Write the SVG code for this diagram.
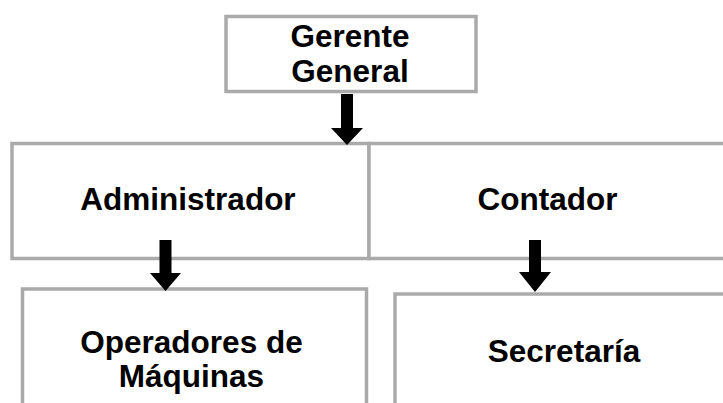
<svg xmlns="http://www.w3.org/2000/svg" width="723" height="403" viewBox="0 0 723 403">
  <style>
    .box { fill: #ffffff; stroke: #aaaaaa; stroke-width: 3.5; }
    .lbl { font-family: "Liberation Sans", Arial, sans-serif; font-weight: bold; font-size: 31.5px; fill: #000000; text-anchor: middle; }
    .arr { fill: #000000; stroke: none; }
  </style>
  <rect width="723" height="403" fill="#ffffff"/>
  <g id="node-gerente">
    <rect class="box" x="226" y="16.5" width="250" height="75"/>
    <text class="lbl" x="350" y="47">Gerente</text>
    <text class="lbl" x="350" y="82">General</text>
  </g>
  <g id="node-administrador">
    <rect class="box" x="12" y="143.5" width="357" height="115"/>
    <text class="lbl" x="188" y="210">Administrador</text>
  </g>
  <g id="node-contador">
    <rect class="box" x="369" y="143.5" width="370" height="115"/>
    <text class="lbl" x="547.5" y="210">Contador</text>
  </g>
  <g id="node-operadores">
    <rect class="box" x="22.5" y="289" width="344" height="140"/>
    <text class="lbl" x="191.5" y="353">Operadores de</text>
    <text class="lbl" x="191.5" y="387">Máquinas</text>
  </g>
  <g id="node-secretaria">
    <rect class="box" x="395" y="294" width="350" height="140"/>
    <text class="lbl" x="564" y="362">Secretaría</text>
  </g>
  <g id="connectors">
    <polygon class="arr" points="341,94 353,94 353,128 363,128 347,145 331,128 341,128"/>
    <polygon class="arr" points="159.5,240 171.5,240 171.5,273 181,273 165.5,291 150,273 159.5,273"/>
    <polygon class="arr" points="529,240 541,240 541,272 551,272 535,292 519,272 529,272"/>
  </g>
</svg>
